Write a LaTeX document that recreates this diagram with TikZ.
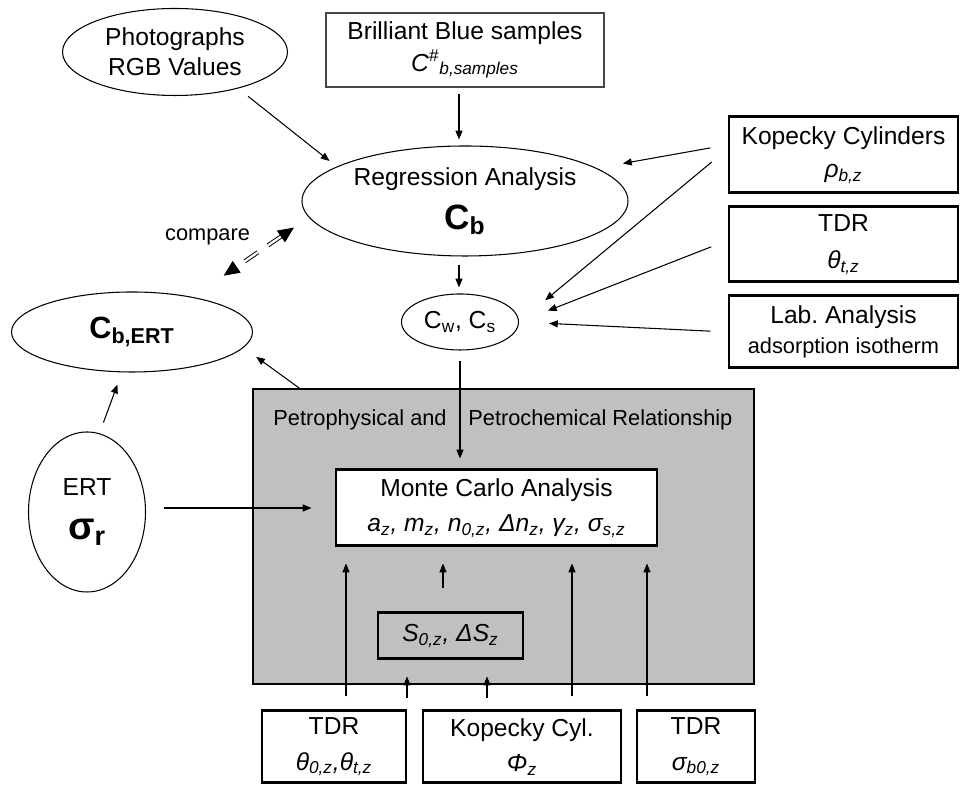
\documentclass[tikz,border=0pt]{standalone}
\usepackage{fontspec}
\setmainfont{Liberation Sans}
\usetikzlibrary{shapes.geometric, arrows.meta, positioning, calc}
\definecolor{boxGray}{RGB}{192,192,192}
\definecolor{lineGray}{RGB}{70,70,70}

\begin{document}
\begin{tikzpicture}[
		every node/.style={font=\fontsize{14}{17}\selectfont, align=center, inner sep=0pt},
		oval/.style={draw, ellipse, line width=0.6pt},
		thinbox/.style={draw=lineGray, line width=0.7pt, rectangle},
		thickbox/.style={draw, line width=1.7pt, rectangle, fill=white},
		smalltxt/.style={font=\fontsize{12.4}{15}\selectfont},
		arr/.style={-{Triangle[length=5pt,width=4pt]}, line width=0.6pt},
		cmp/.style={{Triangle[length=9pt,width=8pt]}-{Triangle[length=9pt,width=8pt]}, double, double distance=1.3pt, line width=0.55pt, dash pattern=on 9pt off 7pt}
	]
	\useasboundingbox (0,0) rectangle (19.24,15.74);

	% grey frame for the relationships
	\node[draw, line width=0.6pt, fill=boxGray, minimum width=10.02cm, minimum height=5.9cm] (petro) at (10.07,5.01) {};
	\node[smalltxt, anchor=base east] (pphys) at (8.94,7.23) {Petrophysical and};
	\node[smalltxt, anchor=base west] (pchem) at (9.36,7.23) {Petrochemical Relationship};

	% upper part
	\node[oval, minimum width=4.5cm, minimum height=1.74cm] (photo) at (3.50,14.70) {Photographs\\RGB Values};
	\node[thinbox, minimum width=5.56cm, minimum height=1.48cm] (bb) at (9.30,14.74) {Brilliant Blue samples\\[1pt]\textit{C\textsuperscript{\#}\textsubscript{b,samples}}};
	\node[oval, minimum width=6.52cm, minimum height=2.2cm] (reg) at (9.30,11.72) {Regression Analysis\\[8pt]{\fontsize{20}{24}\selectfont\bfseries C\textsubscript{b}}};
	\node[oval, minimum width=2.34cm, minimum height=1.12cm] (cw) at (9.20,9.30) {C\textsubscript{w}, C\textsubscript{s}};
	\node[oval, minimum width=4.82cm, minimum height=1.6cm] (cbert) at (2.64,9.10) {\fontsize{17.5}{20}\selectfont\bfseries C\textsubscript{b,ERT}};
	\node[oval, minimum width=2.34cm, minimum height=3.2cm] (ert) at (1.74,5.50) {ERT\\[8pt]{\fontsize{22}{26}\selectfont\bfseries σ\textsubscript{r}}};
	\node[smalltxt] (cmplbl) at (4.15,11.00) {compare};

	% measurements on the right
	\node[thickbox, minimum width=4.58cm, minimum height=1.52cm] (kc) at (16.87,12.64) {Kopecky Cylinders\\[2pt]\textit{ρ\textsubscript{b,z}}};
	\node[thickbox, minimum width=4.58cm, minimum height=1.5cm] (tdrr) at (16.87,10.85) {TDR\\[4pt]\textit{θ\textsubscript{t,z}}};
	\node[thickbox, minimum width=4.58cm, minimum height=1.44cm] (lab) at (16.87,9.10) {Lab.\ Analysis\\{\fontsize{12.4}{15}\selectfont adsorption isotherm}};

	% inside the frame
	\node[thickbox, minimum width=6.42cm, minimum height=1.52cm] (mc) at (9.93,5.58) {Monte Carlo Analysis\\[3pt]\textit{a\textsubscript{z}, m\textsubscript{z}, n\textsubscript{0,z}, Δn\textsubscript{z}, γ\textsubscript{z}, σ\textsubscript{s,z}}};
	\node[thickbox, fill=boxGray, minimum width=2.9cm, minimum height=0.92cm] (sbox) at (9.01,3.02) {\textit{S\textsubscript{0,z}, ΔS\textsubscript{z}}};

	% measurements at the bottom
	\node[thickbox, minimum width=2.88cm, minimum height=1.44cm] (tdrl) at (6.68,0.80) {TDR\\[3pt]\textit{θ\textsubscript{0,z},θ\textsubscript{t,z}}};
	\node[thickbox, minimum width=3.96cm, minimum height=1.44cm] (kcyl) at (10.44,0.80) {Kopecky Cyl.\\[3pt]\textit{Φ\textsubscript{z}}};
	\node[thickbox, minimum width=2.36cm, minimum height=1.44cm] (tdrb) at (13.92,0.80) {TDR\\[3pt]\textit{σ\textsubscript{b0,z}}};

	% connectors
	\draw[arr, shorten <=0.25cm, shorten >=0.18cm] (photo.-30) -- (reg.165.7);
	\draw[arr, shorten <=0.12cm, shorten >=0.12cm] ([xshift=-0.12cm]bb.south) -- ([xshift=-0.12cm]bb.south |- reg.north);
	\draw[arr, shorten <=0.35cm, shorten >=0.53cm] (kc.175) -- (reg.14);
	\draw[arr, shorten <=0.41cm, shorten >=0.68cm] (kc.177) -- (cw.east);
	\draw[arr, shorten <=0.35cm, shorten >=0.62cm] (tdrr.178) -- (cw.east);
	\draw[arr, shorten <=0.34cm, shorten >=0.6cm] (lab.west) -- (cw.east);
	\draw[arr, shorten <=0.16cm, shorten >=0.12cm] ([xshift=-0.12cm]reg.south) -- ([xshift=-0.12cm]reg.south |- cw.north);
	\draw[cmp, shorten <=0.36cm, shorten >=0.75cm] (reg.186.9) -- (cbert.30.9);
	\draw[arr, shorten >=0.31cm] (petro.144.5) -- (cbert.-8);
	\draw[arr, shorten <=0.23cm, shorten >=0.26cm] (ert.81.2) -- (cbert.-104.9);
	\draw[arr, shorten <=0.35cm, shorten >=0.46cm] (ert.east |- mc.west) -- (mc.west);
	\draw[arr, shorten <=0.2cm, shorten >=0.2cm] (cw.south) -- (cw.south |- mc.north);
	\foreach \src/\dx in {tdrl/0.24, kcyl/1.0, tdrb/-0.98}
		\draw[arr, shorten <=0.26cm, shorten >=0.32cm] ([xshift=\dx cm]\src.north) -- ([xshift=\dx cm]\src.north |- mc.south);
	\foreach \src/\dx in {tdrl/1.46, kcyl/-0.7}
		\draw[arr, shorten <=0.22cm, shorten >=0.32cm] ([xshift=\dx cm]\src.north) -- ([xshift=\dx cm]\src.north |- sbox.south);
	\draw[arr, shorten <=0.46cm, shorten >=0.32cm] ([xshift=-0.15cm]sbox.north) -- ([xshift=-0.15cm]sbox.north |- mc.south);
\end{tikzpicture}
\end{document}
